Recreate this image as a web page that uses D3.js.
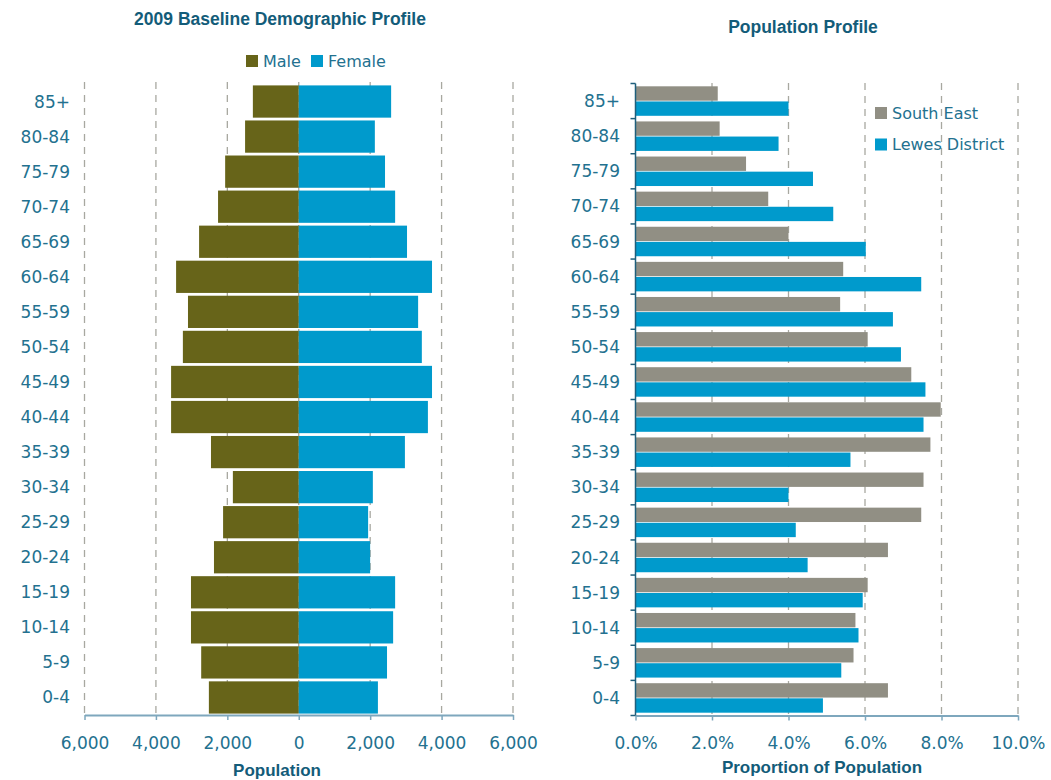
<!DOCTYPE html>
<html>
<head>
<meta charset="utf-8">
<script src="https://cdn.jsdelivr.net/npm/d3@7/dist/d3.min.js"></script>
<style>
  html, body { margin: 0; padding: 0; background: #fff; }
  svg text { font-family: "DejaVu Sans", sans-serif; }
  svg text.heading { font-family: "Liberation Sans", Arial, sans-serif; font-weight: bold; }
</style>
</head>
<body>
<svg id="chart" width="1051" height="780"></svg>
<script>
// Age bands, oldest at the top
const ageGroups = ["85+","80-84","75-79","70-74","65-69","60-64","55-59","50-54","45-49",
                   "40-44","35-39","30-34","25-29","20-24","15-19","10-14","5-9","0-4"];

// 2009 baseline population by sex
const male   = [1285,1503,2061,2260,2791,3435,3102,3245,3575,3575,2458,1845,2119,2374,3018,3018,2732,2517];
const female = [2587,2131,2416,2699,3032,3732,3343,3447,3732,3617,2973,2075,1943,1999,2699,2643,2472,2217];

// Share of population in each age band (%)
const southEast = [2.15,2.2,2.89,3.47,4.0,5.43,5.35,6.07,7.21,7.98,7.71,7.53,7.47,6.6,6.07,5.75,5.7,6.6];
const lewes     = [4.0,3.74,4.64,5.17,6.02,7.47,6.73,6.94,7.58,7.53,5.62,4.0,4.19,4.5,5.94,5.83,5.38,4.9];

const popTicks = [-6000,-4000,-2000,0,2000,4000,6000];
const pctTicks = [0,2,4,6,8,10];

const C = {
  male: "#676419", female: "#009acc", se: "#918f84",
  text: "#23718f", title: "#135c79", grid: "#a8a8a0",
  axisLight: "#7ea7bd", axisDark: "#1f5f7c"
};

const svg = d3.select("#chart");

function heading(x, y, size, txt) {
  svg.append("text").attr("class", "heading")
    .attr("x", x).attr("y", y).attr("text-anchor", "middle")
    .attr("dominant-baseline", "central").attr("font-size", size)
    .attr("fill", C.title).text(txt);
}

// ---------- Left: population pyramid ----------
const xL = d3.scaleLinear().domain([-6000, 6000]).range([84.5, 513]);
const yL = d3.scaleBand().domain(ageGroups).range([84, 715]).paddingInner(0.08).paddingOuter(0.04);

const gL = svg.append("g");

gL.selectAll("line.grid").data(popTicks).join("line")
  .attr("class","grid")
  .attr("x1", d => xL(d)).attr("x2", d => xL(d))
  .attr("y1", 82).attr("y2", 715)
  .attr("stroke", C.grid).attr("stroke-width", 1.3).attr("stroke-dasharray", "7,6");

gL.selectAll("rect.male").data(ageGroups).join("rect")
  .attr("class","male")
  .attr("x", (d,i) => xL(-male[i]))
  .attr("width", (d,i) => xL(0) - xL(-male[i]))
  .attr("y", d => yL(d)).attr("height", yL.bandwidth())
  .attr("fill", C.male);

gL.selectAll("rect.female").data(ageGroups).join("rect")
  .attr("class","female")
  .attr("x", xL(0))
  .attr("width", (d,i) => xL(female[i]) - xL(0))
  .attr("y", d => yL(d)).attr("height", yL.bandwidth())
  .attr("fill", C.female);

const axL = gL.append("g").attr("transform", "translate(0,715)")
  .call(d3.axisBottom(xL).tickValues(popTicks).tickSize(5).tickSizeOuter(0)
        .tickFormat(d => d3.format(",")(Math.abs(d))));
axL.select(".domain").attr("stroke", C.axisLight).attr("stroke-width", 2);
axL.selectAll(".tick line").attr("stroke", C.axisLight).attr("stroke-width", 1.5);
axL.selectAll(".tick text").attr("fill", C.text).attr("font-size", 17).attr("dy", "1.5em");

gL.selectAll("text.age").data(ageGroups).join("text")
  .attr("class","age")
  .attr("x", 70).attr("y", d => yL(d) + yL.bandwidth()/2)
  .attr("text-anchor","end").attr("dominant-baseline","central")
  .attr("fill", C.text).attr("font-size", 17).text(d => d);

heading(280, 19, 17.5, "2009 Baseline Demographic Profile");
heading(277, 770, 17, "Population");

// legend
const legL = svg.append("g");
[["Male", C.male, 246], ["Female", C.female, 311]].forEach(([lab, col, x]) => {
  legL.append("rect").attr("x", x).attr("y", 55).attr("width", 12).attr("height", 12).attr("fill", col);
  legL.append("text").attr("x", x + 17).attr("y", 61).attr("dominant-baseline","central")
    .attr("fill", C.text).attr("font-size", 16).text(lab);
});

// ---------- Right: proportion of population ----------
const xR = d3.scaleLinear().domain([0, 10]).range([635.5, 1018]);
const yR = d3.scaleBand().domain(ageGroups).range([83.5, 715.5]).paddingInner(0.16).paddingOuter(0.08);
const series = ["South East", "Lewes District"];
const ySub = d3.scaleBand().domain(series).range([0, yR.bandwidth()]).padding(0.05).paddingOuter(0);

const gR = svg.append("g");

gR.selectAll("line.grid").data(pctTicks.slice(1)).join("line")
  .attr("class","grid")
  .attr("x1", d => xR(d)).attr("x2", d => xR(d))
  .attr("y1", 83).attr("y2", 715)
  .attr("stroke", C.grid).attr("stroke-width", 1.3).attr("stroke-dasharray", "7,6");

const rows = ageGroups.map((a, i) => ({age: a, vals: [southEast[i], lewes[i]]}));
const grp = gR.selectAll("g.row").data(rows).join("g")
  .attr("class","row").attr("transform", d => `translate(0,${yR(d.age)})`);
grp.selectAll("rect").data(d => d.vals.map((v, j) => ({s: series[j], v}))).join("rect")
  .attr("x", xR(0))
  .attr("y", d => ySub(d.s)).attr("height", ySub.bandwidth())
  .attr("width", d => xR(d.v) - xR(0))
  .attr("fill", d => d.s === "South East" ? C.se : C.female);

const axR = gR.append("g").attr("transform", "translate(0,715.5)")
  .call(d3.axisBottom(xR).tickValues(pctTicks).tickSize(5).tickSizeOuter(0)
        .tickFormat(d => d3.format(".1f")(d) + "%"));
axR.select(".domain").attr("stroke", C.axisLight).attr("stroke-width", 2);
axR.selectAll(".tick line").attr("stroke", C.axisLight).attr("stroke-width", 1.5);
axR.selectAll(".tick text").attr("fill", C.text).attr("font-size", 17).attr("dy", "1.5em");

// vertical axis with boundary ticks between age bands
gR.append("line").attr("x1", xR(0)).attr("x2", xR(0))
  .attr("y1", yR.range()[0]).attr("y2", yR.range()[1])
  .attr("stroke", C.axisDark).attr("stroke-width", 1.5);
d3.range(ageGroups.length + 1).forEach(i => {
  const yy = yR.range()[0] + i * yR.step();
  gR.append("line").attr("x1", xR(0) - 5).attr("x2", xR(0)).attr("y1", yy).attr("y2", yy)
    .attr("stroke", C.axisDark).attr("stroke-width", 1.5);
});

gR.selectAll("text.age").data(ageGroups).join("text")
  .attr("class","age")
  .attr("x", 620).attr("y", d => yR(d) + yR.bandwidth()/2)
  .attr("text-anchor","end").attr("dominant-baseline","central")
  .attr("fill", C.text).attr("font-size", 17).text(d => d);

heading(803, 27, 17.5, "Population Profile");
heading(822, 767, 17, "Proportion of Population");

const legR = svg.append("g");
[["South East", C.se, 107], ["Lewes District", C.female, 138.5]].forEach(([lab, col, y]) => {
  legR.append("rect").attr("x", 875).attr("y", y).attr("width", 12).attr("height", 12).attr("fill", col);
  legR.append("text").attr("x", 892).attr("y", y + 6).attr("dominant-baseline","central")
    .attr("fill", C.text).attr("font-size", 16).text(lab);
});
</script>
</body>
</html>
